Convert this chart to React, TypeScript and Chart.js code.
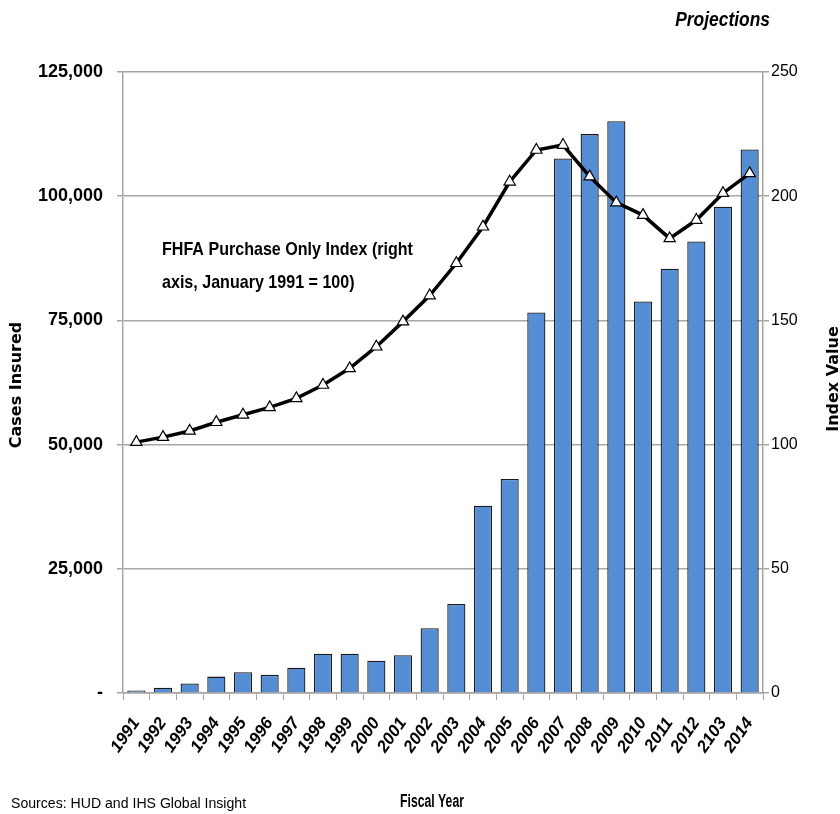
import React, { useEffect, useRef } from "react";
import { Chart, registerables } from "chart.js";

Chart.register(...registerables);

// Fiscal years (the "2103" label is kept as printed on the axis)
const years = [
  "1991", "1992", "1993", "1994", "1995", "1996", "1997", "1998",
  "1999", "2000", "2001", "2002", "2003", "2004", "2005", "2006",
  "2007", "2008", "2009", "2010", "2011", "2012", "2103", "2014",
];

// Cases insured per fiscal year (left axis)
const casesInsured = [
  500, 1050, 1900, 3300, 4200, 3650, 5070, 7900,
  7900, 6480, 7600, 13040, 17900, 37700, 43100, 76600,
  107600, 112500, 115100, 78800, 85400, 90900, 97900, 109400,
];

// FHFA purchase-only index, January 1991 = 100 (right axis)
const fhfaIndex = [
  101, 103, 105.5, 109, 112, 115, 118.6, 124,
  130.7, 139.4, 149.5, 160, 173, 187.7, 205.8, 218.6,
  220.6, 207.9, 197.4, 192.4, 183, 190.4, 201.2, 209.2,
];

const leftTicks = [0, 25000, 50000, 75000, 100000, 125000];
const rightTicks = [0, 50, 100, 150, 200, 250];

const SANS = '"Liberation Sans", Arial, sans-serif';
const TITLE = '"DejaVu Sans", "Liberation Sans", sans-serif';
const GRID = "#a6a6a6";

// Draws a horizontally condensed line of text
function condensed(
  ctx: CanvasRenderingContext2D,
  text: string,
  x: number,
  y: number,
  font: string,
  sx: number,
  align: CanvasTextAlign
) {
  ctx.save();
  ctx.translate(x, y);
  ctx.scale(sx, 1);
  ctx.font = font;
  ctx.textAlign = align;
  ctx.fillText(text, 0, 0);
  ctx.restore();
}

const textPlugin = {
  id: "chartText",
  afterDraw(chart: any) {
    const ctx = chart.ctx as CanvasRenderingContext2D;
    ctx.save();
    ctx.fillStyle = "#000";
    ctx.textBaseline = "middle";

    condensed(ctx, "Projections", 770, 20, `italic bold 20px ${SANS}`, 0.87, "right");

    condensed(ctx, "FHFA Purchase Only Index (right", 162, 250, `bold 19px ${SANS}`, 0.846, "left");
    condensed(ctx, "axis, January 1991 = 100)", 162, 283, `bold 19px ${SANS}`, 0.846, "left");

    condensed(ctx, "Fiscal Year", 432, 802, `bold 18px ${SANS}`, 0.68, "center");

    condensed(ctx, "Sources: HUD and IHS Global Insight", 11, 804, `15px ${SANS}`, 0.94, "left");

    ctx.font = `bold 16px ${TITLE}`;
    ctx.textAlign = "center";
    ctx.save();
    ctx.translate(17, 385);
    ctx.rotate(-Math.PI / 2);
    ctx.fillText("Cases Insured", 0, 0);
    ctx.restore();

    ctx.save();
    ctx.translate(834, 379);
    ctx.rotate(-Math.PI / 2);
    ctx.fillText("Index Value", 0, 0);
    ctx.restore();

    ctx.restore();
  },
};

export default function App() {
  const canvasRef = useRef<HTMLCanvasElement | null>(null);

  useEffect(() => {
    if (!canvasRef.current) return;
    const chart = new Chart(canvasRef.current, {
      type: "bar",
      data: {
        labels: years,
        datasets: [
          {
            type: "line",
            label: "FHFA Purchase Only Index",
            data: fhfaIndex,
            yAxisID: "y1",
            borderColor: "#000",
            borderWidth: 3.5,
            pointStyle: "triangle",
            pointRadius: 6.5,
            pointBackgroundColor: "#fff",
            pointBorderColor: "#000",
            pointBorderWidth: 1.2,
            tension: 0,
            order: 0,
          } as any,
          {
            type: "bar",
            label: "Cases Insured",
            data: casesInsured,
            yAxisID: "y",
            backgroundColor: "#558ed5",
            borderColor: "#1a1a1a",
            borderWidth: 1.3,
            categoryPercentage: 1,
            barPercentage: 0.68,
            order: 1,
          } as any,
        ],
      },
      options: {
        responsive: false,
        animation: false,
        layout: { padding: { top: 72, bottom: 0, left: 0, right: 0 } },
        plugins: {
          legend: { display: false },
          tooltip: { enabled: false },
        },
        scales: {
          x: {
            offset: true,
            grid: {
              offset: true,
              drawOnChartArea: false,
              drawTicks: true,
              tickLength: 7,
              color: GRID,
            },
            border: { color: GRID, width: 1.5 },
            ticks: {
              minRotation: 55,
              maxRotation: 55,
              autoSkip: false,
              padding: 14,
              color: "#000",
              font: { family: SANS, size: 17, weight: "bold", style: "italic" },
            },
            afterFit(scale: any) {
              scale.height = 121;
            },
          },
          y: {
            position: "left",
            min: 0,
            max: 125000,
            afterBuildTicks(scale: any) {
              scale.ticks = leftTicks.map((v) => ({ value: v }));
            },
            grid: { color: GRID, lineWidth: 1.5, tickLength: 6 },
            border: { color: GRID, width: 1.5 },
            ticks: {
              padding: 14,
              color: "#000",
              font: { family: SANS, size: 18, weight: "bold" },
              callback: (v: any) => (Number(v) === 0 ? "-" : Number(v).toLocaleString("en-US")),
            },
            afterFit(scale: any) {
              scale.width = 123;
            },
          },
          y1: {
            position: "right",
            min: 0,
            max: 250,
            afterBuildTicks(scale: any) {
              scale.ticks = rightTicks.map((v) => ({ value: v }));
            },
            grid: { drawOnChartArea: false, color: GRID, lineWidth: 1.5, tickLength: 6 },
            border: { color: GRID, width: 1.5 },
            ticks: {
              padding: 2,
              color: "#000",
              font: { family: SANS, size: 16 },
            },
            afterFit(scale: any) {
              scale.width = 77;
            },
          },
        },
      },
      plugins: [textPlugin],
    });
    return () => chart.destroy();
  }, []);

  return (
    <div style={{ position: "absolute", left: 0, top: 0, width: 840, height: 814, background: "#fff" }}>
      <canvas ref={canvasRef} width={840} height={814} />
    </div>
  );
}
